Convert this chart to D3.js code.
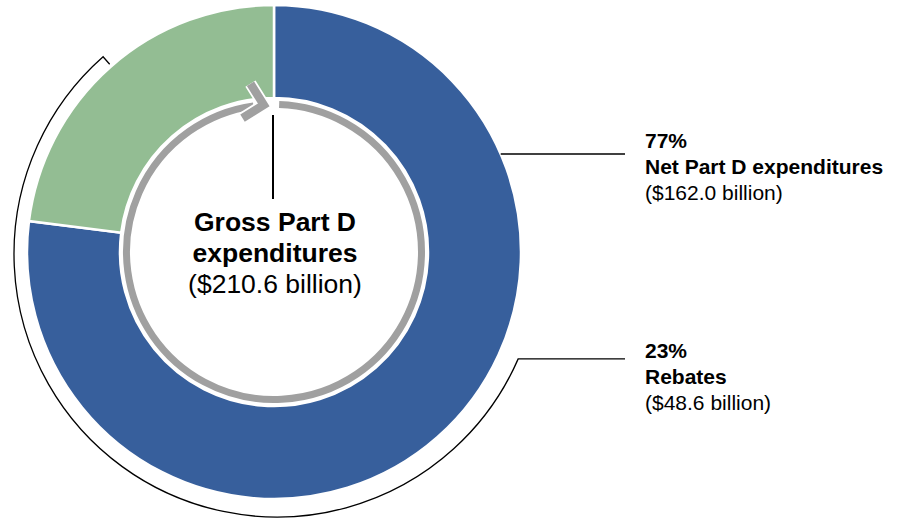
<!DOCTYPE html>
<html>
<head>
<style>
body { margin: 0; background: #fff; }
text { font-family: "Liberation Sans", Arial, sans-serif; fill: #000; }
</style>
<script src="https://d3js.org/d3.v7.min.js"></script>
</head>
<body>
<svg width="899" height="519"></svg>
<script>
// data
var categories = ["Net Part D expenditures", "Rebates"];
var shares = [77, 23];
var amounts = [162.0, 48.6];
var totalLabel = ["Gross Part D", "expenditures"];
var totalAmount = 210.6;
var colors = ["#375f9c", "#93bd93"];

var svg = d3.select("svg");
var cx = 274, cy = 252;
var outerR = 247, innerR = 154;

var pie = d3.pie().sort(null).value(function(d) { return d; });
var arcs = pie(shares);

var arc = d3.arc().innerRadius(innerR).outerRadius(outerR);

var g = svg.append("g").attr("transform", "translate(" + cx + "," + cy + ")");

g.selectAll("path.slice")
  .data(arcs)
  .enter()
  .append("path")
  .attr("class", "slice")
  .attr("d", arc)
  .attr("fill", function(d, i) { return colors[i]; })
  .attr("stroke", "#fff")
  .attr("stroke-width", 2.5);

// gray circular arrow inside
var ringR = 147.5;
var deg = Math.PI / 180;
function arcLine(r, a0, a1) {
  var p = d3.path();
  p.arc(0, 0, r, a0 - Math.PI / 2, a1 - Math.PI / 2, a1 < a0);
  return p.toString();
}
// white outline then gray
g.append("path")
  .attr("d", arcLine(ringR, 2 * deg, 352 * deg))
  .attr("fill", "none").attr("stroke", "#fff").attr("stroke-width", 10);
g.append("path")
  .attr("d", arcLine(ringR, 2 * deg, 352 * deg))
  .attr("fill", "none").attr("stroke", "#a0a0a0").attr("stroke-width", 7);

// arrowhead chevron at the end of the ring
var tipA = -4 * deg;
var tip = [ringR * Math.sin(tipA), -ringR * Math.cos(tipA)];
var dir = Math.atan2(Math.sin(tipA) + 0.3, Math.cos(tipA)); // tangent, tilted a bit down
var armLen = 25, armAng = 45 * deg;
var back = dir + Math.PI;
var chevron = [
  [tip[0] + armLen * Math.cos(back - armAng), tip[1] + armLen * Math.sin(back - armAng)],
  tip,
  [tip[0] + armLen * Math.cos(back + armAng), tip[1] + armLen * Math.sin(back + armAng)]
];
g.append("path")
  .attr("d", d3.line()(chevron))
  .attr("fill", "none").attr("stroke", "#fff").attr("stroke-width", 12)
  .attr("stroke-linejoin", "miter");
g.append("path")
  .attr("d", d3.line()(chevron))
  .attr("fill", "none").attr("stroke", "#a0a0a0").attr("stroke-width", 8.5)
  .attr("stroke-linejoin", "miter");

// short vertical line below the arrow
g.append("line")
  .attr("x1", -1).attr("x2", -1)
  .attr("y1", -137).attr("y2", -53)
  .attr("stroke", "#000").attr("stroke-width", 2);

// center label
var center = g.append("text").attr("text-anchor", "middle").style("font-size", "26.5px");
center.selectAll("tspan.b")
  .data(totalLabel)
  .enter()
  .append("tspan")
  .attr("x", 1)
  .attr("y", function(d, i) { return -21 + i * 31; })
  .attr("font-weight", "bold")
  .text(function(d) { return d; });
center.append("tspan")
  .attr("x", 1)
  .attr("y", -21 + 2 * 31)
  .text("($" + totalAmount.toFixed(1) + " billion)");

// labels on the right
var labelX = 645, lineEnd = 625;
var labelY = [148, 358];
var lineH = 26;

arcs.forEach(function(d, i) {
  var t = svg.append("text").style("font-size", "21px");
  t.append("tspan").attr("x", labelX).attr("y", labelY[i])
    .attr("font-weight", "bold").text(shares[i] + "%");
  t.append("tspan").attr("x", labelX).attr("y", labelY[i] + lineH)
    .attr("font-weight", "bold").text(categories[i]);
  t.append("tspan").attr("x", labelX).attr("y", labelY[i] + 2 * lineH)
    .text("($" + amounts[i].toFixed(1) + " billion)");
});

// leader for net expenditures: straight line from the ring edge
var ly = labelY[0] + 6;
var lx0 = cx + Math.sqrt(outerR * outerR - (ly - cy) * (ly - cy));
svg.append("line")
  .attr("x1", lx0).attr("x2", lineEnd)
  .attr("y1", ly).attr("y2", ly)
  .attr("stroke", "#000").attr("stroke-width", 1.3);

// leader for rebates: bracket arc around the donut
var bx = cx + 3, by = cy + 2, bR = 263;
var a0 = 113.5 * deg, a1 = 318.6 * deg;
var p = d3.path();
var startX = bx + bR * Math.sin(a0), startY = by - bR * Math.cos(a0);
p.moveTo(lineEnd, startY);
p.lineTo(startX, startY);
p.arc(bx, by, bR, a0 - Math.PI / 2, a1 - Math.PI / 2, false);
p.lineTo(bx + (bR - 10) * Math.sin(a1), by - (bR - 10) * Math.cos(a1));
svg.append("path")
  .attr("d", p.toString())
  .attr("fill", "none").attr("stroke", "#000").attr("stroke-width", 1.3);
</script>
</body>
</html>
